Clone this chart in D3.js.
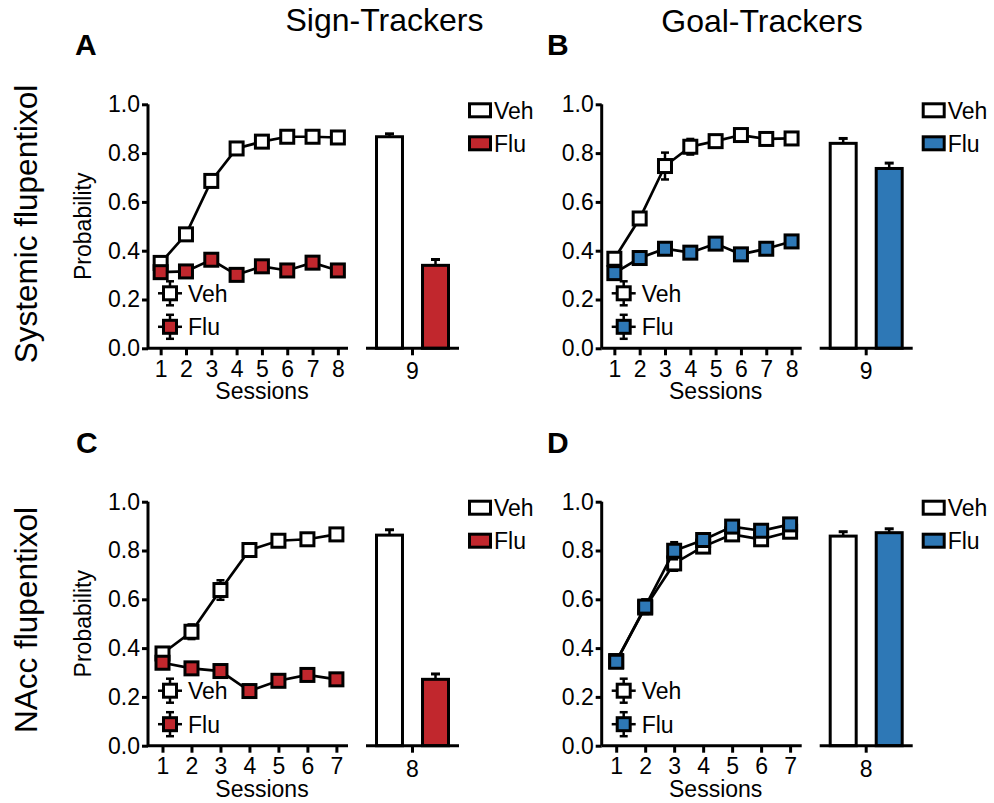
<!DOCTYPE html>
<html><head><meta charset="utf-8">
<script src="https://cdn.jsdelivr.net/npm/d3@7"></script>
<style>
body{margin:0;background:#fff;}
svg{display:block;font-family:"Liberation Sans",Arial,sans-serif;}
</style></head>
<body>
<svg id="chart" width="994" height="803"></svg>
<script>
// ---------- data ----------
const yTicks = [0.0, 0.2, 0.4, 0.6, 0.8, 1.0];
const groups = ["Veh", "Flu"];
const sessionsSystemic = [1, 2, 3, 4, 5, 6, 7, 8];
const sessionsNAcc = [1, 2, 3, 4, 5, 6, 7];
const testSessionSystemic = "9";
const testSessionNAcc = "8";

// Panel A: Sign-Trackers, systemic
const aVeh = [0.350, 0.467, 0.686, 0.819, 0.847, 0.867, 0.867, 0.864];
const aVehErr = [0.02, 0.02, 0.025, 0.02, 0.02, 0.02, 0.02, 0.015];
const aFlu = [0.312, 0.315, 0.363, 0.301, 0.336, 0.319, 0.351, 0.319];
const aFluErr = [0.02, 0.02, 0.02, 0.02, 0.02, 0.02, 0.02, 0.02];
const aBar = [0.867, 0.340];
const aBarErr = [0.012, 0.024];
// Panel B: Goal-Trackers, systemic
const bVeh = [0.367, 0.532, 0.747, 0.826, 0.849, 0.874, 0.858, 0.860];
const bVehErr = [0.02, 0.025, 0.055, 0.032, 0.02, 0.02, 0.02, 0.02];
const bFlu = [0.308, 0.370, 0.408, 0.392, 0.429, 0.385, 0.408, 0.438];
const bFluErr = [0.025, 0.02, 0.02, 0.02, 0.02, 0.02, 0.02, 0.02];
const bBar = [0.840, 0.737];
const bBarErr = [0.020, 0.022];
// Panel C: Sign-Trackers, NAcc
const cVeh = [0.378, 0.467, 0.638, 0.802, 0.840, 0.846, 0.866];
const cVehErr = [0.02, 0.03, 0.04, 0.02, 0.02, 0.02, 0.02];
const cFlu = [0.340, 0.317, 0.306, 0.224, 0.266, 0.290, 0.272];
const cFluErr = [0.02, 0.02, 0.02, 0.02, 0.02, 0.02, 0.02];
const cBar = [0.863, 0.272];
const cBarErr = [0.022, 0.022];
// Panel D: Goal-Trackers, NAcc
const dVeh = [0.347, 0.566, 0.747, 0.816, 0.866, 0.846, 0.877];
const dVehErr = [0.02, 0.025, 0.03, 0.02, 0.02, 0.02, 0.02];
const dFlu = [0.344, 0.570, 0.799, 0.843, 0.898, 0.881, 0.907];
const dFluErr = [0.02, 0.03, 0.035, 0.02, 0.02, 0.02, 0.02];
const dBar = [0.859, 0.873];
const dBarErr = [0.018, 0.016];

const RED = "#c1272d", BLUE = "#2e78b6";

const svg = d3.select("#chart");
const FS = 23;

function panel(opt) {
  const g = svg.append("g");
  const x0 = opt.x0, yTop = opt.yTop, H = 244;
  const y = d3.scaleLinear().domain([0, 1]).range([yTop + H, yTop]);
  const n = opt.sessions.length;
  const x = d3.scaleLinear().domain([0.5, n + 0.4]).range([x0, x0 + 200]);

  const ya = g.append("g").attr("transform", `translate(${x0},0)`)
    .call(d3.axisLeft(y).tickValues(yTicks).tickFormat(d3.format(".1f")).tickSize(6).tickPadding(2));
  const xa = g.append("g").attr("transform", `translate(0,${yTop + H})`)
    .call(d3.axisBottom(x).tickValues(opt.sessions).tickFormat(d3.format("d")).tickSize(7).tickPadding(5));
  [ya, xa].forEach(a => {
    a.select(".domain").attr("stroke", "#000").attr("stroke-width", 3);
    a.selectAll(".tick line").attr("stroke", "#000").attr("stroke-width", 3);
    a.selectAll("text").attr("font-size", FS).attr("fill", "#000").attr("font-family", "Liberation Sans, Arial, sans-serif");
  });
  ya.select(".domain").attr("d", `M0,${yTop + H}V${yTop}`);
  xa.select(".domain").attr("d", `M${x0},0H${x0 + 200}`);

  g.append("text").attr("x", x0 + 114).attr("y", yTop + H + 51)
    .attr("text-anchor", "middle").attr("font-size", FS).text("Sessions");
  if (opt.ylabel) {
    g.append("text").attr("transform", `translate(${x0 - 57},${yTop + H / 2}) rotate(-90)`)
      .attr("text-anchor", "middle").attr("font-size", FS).text("Probability");
  }

  const line = d3.line().x((d, i) => x(opt.sessions[i])).y(d => y(d));
  const series = [
    {v: opt.veh, e: opt.vehErr, fill: "#fff"},
    {v: opt.flu, e: opt.fluErr, fill: opt.color}
  ];
  const S = 13;
  series.forEach(s => {
    const sg = g.append("g");
    sg.append("path").datum(s.v).attr("d", line).attr("fill", "none")
      .attr("stroke", "#000").attr("stroke-width", 2.7);
    const eb = sg.selectAll(".eb").data(s.v).enter().append("g");
    eb.append("line").attr("x1", (d, i) => x(opt.sessions[i])).attr("x2", (d, i) => x(opt.sessions[i]))
      .attr("y1", (d, i) => y(d + s.e[i])).attr("y2", (d, i) => y(d - s.e[i]))
      .attr("stroke", "#000").attr("stroke-width", 2.5);
    eb.append("line").attr("x1", (d, i) => x(opt.sessions[i]) - 4).attr("x2", (d, i) => x(opt.sessions[i]) + 4)
      .attr("y1", (d, i) => y(d + s.e[i])).attr("y2", (d, i) => y(d + s.e[i]))
      .attr("stroke", "#000").attr("stroke-width", 2.5);
    eb.append("line").attr("x1", (d, i) => x(opt.sessions[i]) - 4).attr("x2", (d, i) => x(opt.sessions[i]) + 4)
      .attr("y1", (d, i) => y(d - s.e[i])).attr("y2", (d, i) => y(d - s.e[i]))
      .attr("stroke", "#000").attr("stroke-width", 2.5);
    sg.selectAll("rect").data(s.v).enter().append("rect")
      .attr("x", (d, i) => x(opt.sessions[i]) - S / 2).attr("y", d => y(d) - S / 2)
      .attr("width", S).attr("height", S).attr("fill", s.fill)
      .attr("stroke", "#000").attr("stroke-width", 3);
  });

  [{t: "Veh", fill: "#fff", dy: 189}, {t: "Flu", fill: opt.color, dy: 222.5}].forEach(L => {
    const cx = x0 + 22, cy = yTop + L.dy;
    const lg = g.append("g");
    lg.append("line").attr("x1", cx - 12).attr("x2", cx + 12).attr("y1", cy).attr("y2", cy).attr("stroke", "#000").attr("stroke-width", 2.5);
    lg.append("line").attr("x1", cx).attr("x2", cx).attr("y1", cy - 12).attr("y2", cy + 12).attr("stroke", "#000").attr("stroke-width", 2.5);
    [-12, 12].forEach(o => lg.append("line").attr("x1", cx - 4).attr("x2", cx + 4).attr("y1", cy + o).attr("y2", cy + o).attr("stroke", "#000").attr("stroke-width", 2.5));
    lg.append("rect").attr("x", cx - S / 2).attr("y", cy - S / 2).attr("width", S).attr("height", S)
      .attr("fill", L.fill).attr("stroke", "#000").attr("stroke-width", 3);
    lg.append("text").attr("x", cx + 18).attr("y", cy + 8.5).attr("font-size", FS).text(L.t);
  });

  const bx = d3.scaleBand().domain(groups).range([x0 + 227, x0 + 302]).paddingInner(0.37).paddingOuter(0);
  const bg = g.append("g");
  const bw = bx.bandwidth();
  groups.forEach((k, i) => {
    const v = opt.bar[i], e = opt.barErr[i];
    const cx = bx(k) + bw / 2;
    bg.append("line").attr("x1", cx).attr("x2", cx).attr("y1", y(v)).attr("y2", y(v + e)).attr("stroke", "#000").attr("stroke-width", 2.5);
    bg.append("line").attr("x1", cx - 4.5).attr("x2", cx + 4.5).attr("y1", y(v + e)).attr("y2", y(v + e)).attr("stroke", "#000").attr("stroke-width", 3);
    bg.append("rect").attr("x", bx(k) + 1.5).attr("y", y(v)).attr("width", bw - 3).attr("height", y(0) - y(v))
      .attr("fill", i === 0 ? "#fff" : opt.color).attr("stroke", "#000").attr("stroke-width", 3);
  });
  const tx = x0 + 264.5;
  bg.append("line").attr("x1", x0 + 218).attr("x2", x0 + 311).attr("y1", y(0)).attr("y2", y(0)).attr("stroke", "#000").attr("stroke-width", 3);
  bg.append("line").attr("x1", tx).attr("x2", tx).attr("y1", y(0)).attr("y2", y(0) + 7).attr("stroke", "#000").attr("stroke-width", 3);
  bg.append("text").attr("x", tx).attr("y", y(0) + 31).attr("text-anchor", "middle").attr("font-size", FS).text(opt.testSession);

  [{t: "Veh", fill: "#fff", dy: -2}, {t: "Flu", fill: opt.color, dy: 31}].forEach(L => {
    g.append("rect").attr("x", x0 + 321.5).attr("y", yTop + L.dy + 1.5).attr("width", 21).attr("height", 13)
      .attr("fill", L.fill).attr("stroke", "#000").attr("stroke-width", 3);
    g.append("text").attr("x", x0 + 346).attr("y", yTop + L.dy + 16.5).attr("font-size", FS).text(L.t);
  });

  svg.append("text").attr("x", opt.letterX).attr("y", yTop - 49).attr("font-size", 30)
    .attr("font-weight", "bold").text(opt.letter);
}

panel({x0: 148, yTop: 104.3, sessions: sessionsSystemic, veh: aVeh, vehErr: aVehErr, flu: aFlu, fluErr: aFluErr,
  bar: aBar, barErr: aBarErr, color: RED, ylabel: true, testSession: testSessionSystemic, letter: "A", letterX: 75});
panel({x0: 601.7, yTop: 104.3, sessions: sessionsSystemic, veh: bVeh, vehErr: bVehErr, flu: bFlu, fluErr: bFluErr,
  bar: bBar, barErr: bBarErr, color: BLUE, ylabel: false, testSession: testSessionSystemic, letter: "B", letterX: 547});
panel({x0: 148, yTop: 501.7, sessions: sessionsNAcc, veh: cVeh, vehErr: cVehErr, flu: cFlu, fluErr: cFluErr,
  bar: cBar, barErr: cBarErr, color: RED, ylabel: true, testSession: testSessionNAcc, letter: "C", letterX: 76});
panel({x0: 601.7, yTop: 501.7, sessions: sessionsNAcc, veh: dVeh, vehErr: dVehErr, flu: dFlu, fluErr: dFluErr,
  bar: dBar, barErr: dBarErr, color: BLUE, ylabel: false, testSession: testSessionNAcc, letter: "D", letterX: 547});

svg.append("text").attr("x", 384.5).attr("y", 31).attr("text-anchor", "middle").attr("font-size", 32).text("Sign-Trackers");
svg.append("text").attr("x", 762).attr("y", 32).attr("text-anchor", "middle").attr("font-size", 32).text("Goal-Trackers");
svg.append("text").attr("transform", "translate(37,224) rotate(-90)").attr("text-anchor", "middle").attr("font-size", 31.5).text("Systemic flupentixol");
svg.append("text").attr("transform", "translate(37,620) rotate(-90)").attr("text-anchor", "middle").attr("font-size", 31.5).text("NAcc flupentixol");
</script>
</body></html>
